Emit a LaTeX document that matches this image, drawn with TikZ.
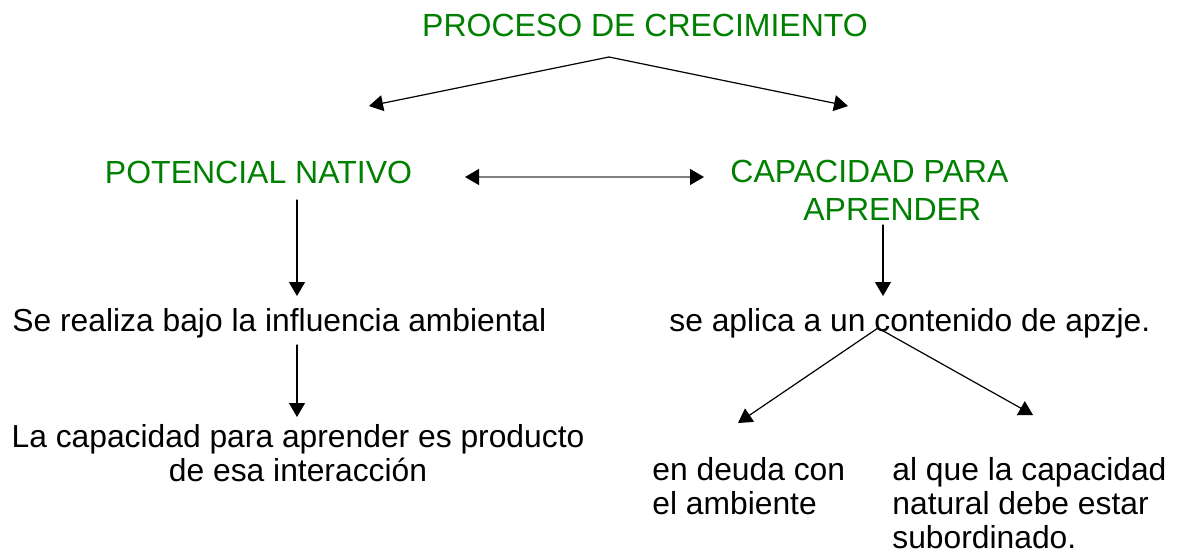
\documentclass[tikz,border=0pt]{standalone}
\usepackage{fontspec}
\setmainfont{Liberation Sans}
\usepackage{xcolor}
\usepackage{tikz}
\usetikzlibrary{arrows.meta}
\definecolor{verde}{RGB}{0,128,0}

\begin{document}
\begin{tikzpicture}[line cap=round,line join=round,>={Triangle[length=7pt,width=8pt]},x=0.5pt,y=-0.5pt,
verdetxt/.style={inner sep=0pt,text=verde,font=\fontsize{16}{19}\selectfont},
negrotxt/.style={inner sep=0pt,text=black,font=\fontsize{15.9}{17}\selectfont},
flecha/.style={->,line width=0.6pt}]
\useasboundingbox (0,0) rectangle (1185,554);
\node[verdetxt,anchor=base] (proceso) at (645,36.7) {PROCESO DE CRECIMIENTO};
\node[verdetxt,anchor=base] (potencial) at (258.5,183) {POTENCIAL NATIVO};
\node[verdetxt,anchor=north west,align=left] (capacidad) at (730,160) {CAPACIDAD PARA\\\hspace*{36.5pt}APRENDER};
\node[negrotxt,anchor=base west] (influencia) at (12,331.5) {Se realiza bajo la influencia ambiental};
\node[negrotxt,anchor=base west] (contenido) at (669,331.5) {se aplica a un contenido de apzje.};
\node[negrotxt,anchor=north,align=center] (producto) at (298,424) {La capacidad para aprender es producto\\de esa interacción};
\node[negrotxt,anchor=north west,align=left] (deuda) at (652,457) {en deuda con\\el ambiente};
\node[negrotxt,anchor=north west,align=left] (natural) at (892,457) {al que la capacidad\\natural debe estar\\subordinado.};
\coordinate (pico) at (609,57);
\coordinate (picoizq) at (369,106);
\coordinate (picoder) at (848,106);
\coordinate (dobleizq) at (465,177);
\coordinate (dobleder) at (704,177);
\coordinate (potarriba) at (297,200);
\coordinate (potabajo) at (297,296);
\coordinate (caparriba) at (883,225);
\coordinate (capabajo) at (883,296);
\coordinate (infarriba) at (297,345);
\coordinate (infabajo) at (297,417);
\coordinate (rama) at (878,328);
\coordinate (ramaizq) at (738,423);
\coordinate (ramader) at (1033,415);
\draw[flecha] (pico) -- (picoizq);
\draw[flecha] (pico) -- (picoder);
\draw[gray,line width=0.6pt,<->,>={Triangle[length=7pt,width=8pt,black]}] (dobleizq) -- (dobleder);
\draw[flecha] (potarriba) -- (potabajo);
\draw[flecha] (caparriba) -- (capabajo);
\draw[flecha] (infarriba) -- (infabajo);
\draw[flecha] (rama) -- (ramaizq);
\draw[flecha] (rama) -- (ramader);
\end{tikzpicture}
\end{document}
